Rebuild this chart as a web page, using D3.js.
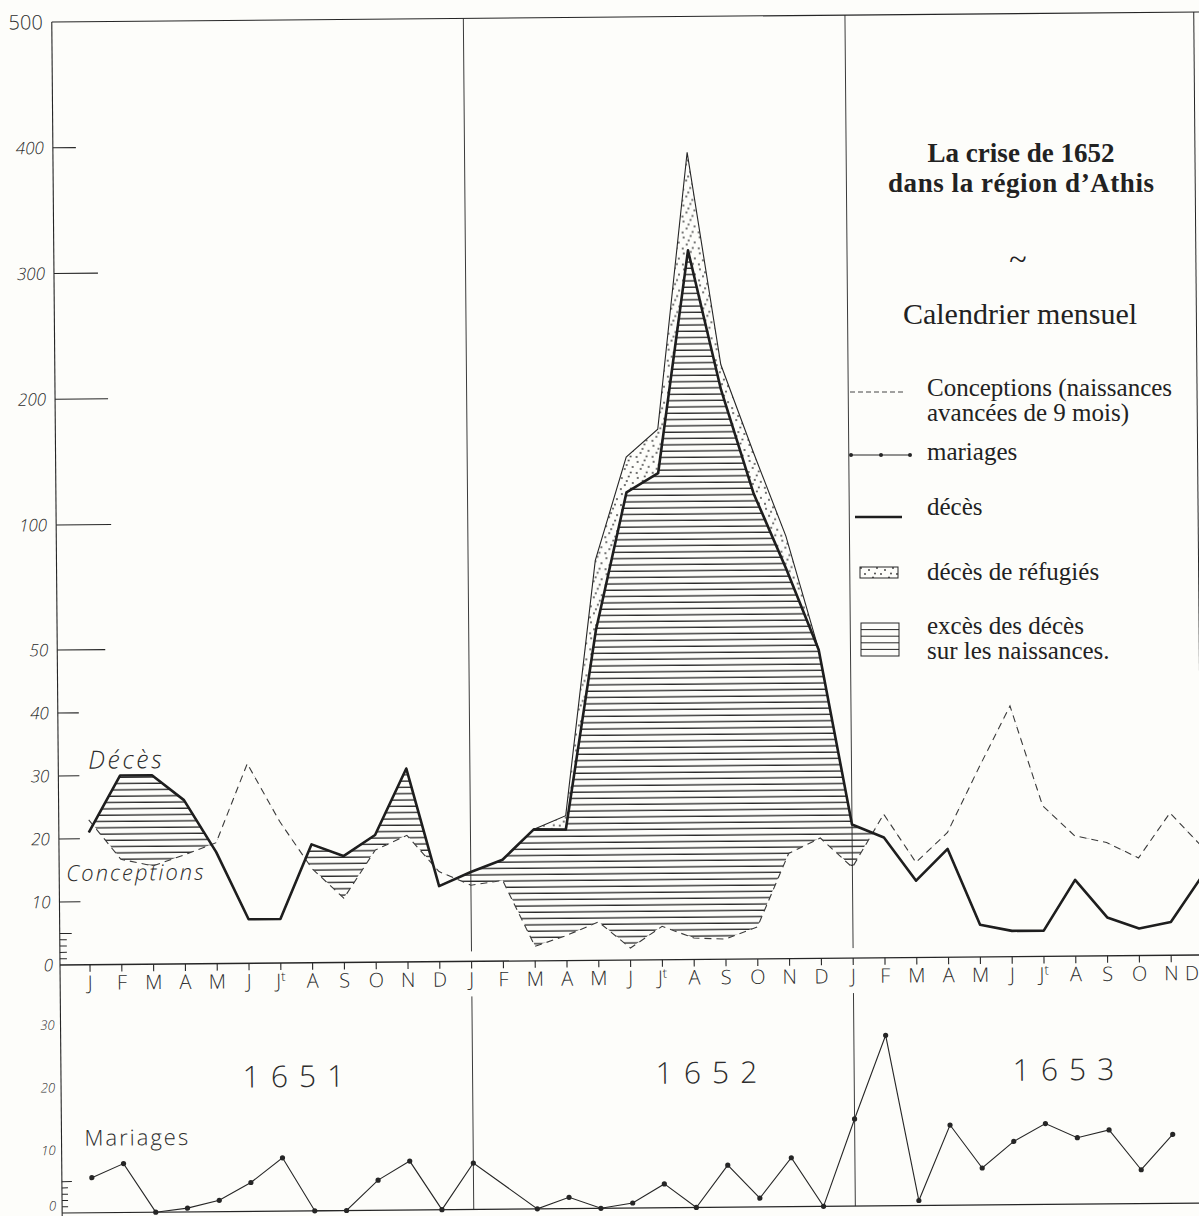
<!DOCTYPE html>
<html>
<head>
<meta charset="utf-8">
<script src="https://cdn.jsdelivr.net/npm/d3@7/dist/d3.min.js"></script>
<style>
  body { margin: 0; background: #fdfdfa; }
  svg { display: block; }
  .hand { font-family: "Open Sans", "DejaVu Sans", sans-serif; font-weight: 300; fill: #2c2c2c; }
  .print { font-family: "Liberation Serif", "Times New Roman", serif; fill: #222; }
</style>
</head>
<body>
<div class="canvas"></div>
<script>
const years = ['1651', '1652', '1653'];
const monthLabels = ['J', 'F', 'M', 'A', 'M', 'J', 'Jt', 'A', 'S', 'O', 'N', 'D'];

// burials of the parishioners
const deces = [
    21, 30, 30, 26, 17.7, 7, 7, 18.8, 16.9, 20.2, 30.7, 12,
    14.2, 16.1, 20.9, 20.8, 56, 122, 137, 314, 203, 120, 80, 49,
    21.2, 19.1, 12.2, 17.2, 5.1, 4.1, 4.1, 12.1, 6.1, 4.3, 5.3, 12.6
];
// extra burials of refugees (stacked on top of deces)
const refugies = [
    0, 0, 0, 0, 0, 0, 0, 0, 0, 0, 0, 0,
    0, 0, 0, 2.2, 28, 28, 35, 78, 20, 33, 13, 0,
    0, 0, 0, 0, 0, 0, 0, 0, 0, 0, 0, 0
];
// births moved back 9 months
const conceptions = [
    23, 16.7, 15.6, 17.3, 19.2, 31.7, 22.5, 15, 10.2, 17.8, 20.1, 14.3,
    12.1, 12.8, 2.3, 4, 6.1, 1.9, 5.3, 3.4, 3.2, 5.1, 16.7, 19.1,
    14.4, 22.8, 15.1, 19.8, 30, 39.8, 23.9, 19.1, 18, 15.5, 22.6, 17.2
];
const mariages = [
    5.6, 7.8, 0, 0.6, 1.8, 4.6, 8.5, 0, 0, 4.8, 7.8, 0,
    7.4, null, 0, 1.8, 0, 0.8, 3.8, 0, 6.7, 1.4, 7.8, 0,
    13.9, 27.2, 0.8, 12.8, 5.9, 10.1, 12.9, 10.6, 11.8, 5.4, 11, null
];

const yTicks = [0, 10, 20, 30, 40, 50, 100, 200, 300, 400, 500];
const yMinor = [1, 2, 3, 4, 5];
const yTicksMar = [0, 10, 20, 30];

const dims = { width: 1199, height: 1216 };
const ink = '#262626';

const svg = d3.select('.canvas')
    .append('svg')
    .attr('width', dims.width)
    .attr('height', dims.height);

svg.append('rect')
    .attr('width', dims.width)
    .attr('height', dims.height)
    .attr('fill', '#fdfdfa');

// patterns: horizontal hatching and stipple
const defs = svg.append('defs');
const hatch = defs.append('pattern')
    .attr('id', 'hatch')
    .attr('patternUnits', 'userSpaceOnUse')
    .attr('width', 40)
    .attr('height', 6.3);
hatch.append('line')
    .attr('x1', 0).attr('x2', 40)
    .attr('y1', 3).attr('y2', 3)
    .attr('stroke', '#2a2a2a')
    .attr('stroke-width', 1.4);

const dots = defs.append('pattern')
    .attr('id', 'dots')
    .attr('patternUnits', 'userSpaceOnUse')
    .attr('width', 16)
    .attr('height', 16);
dots.append('rect').attr('width', 16).attr('height', 16).attr('fill', '#fdfdfa');
[[2, 3], [9, 1.5], [13, 8], [5, 10], [11, 13.5], [1, 14], [7, 6]].forEach(p => {
    dots.append('circle').attr('cx', p[0]).attr('cy', p[1]).attr('r', 0.9).attr('fill', '#333');
});

// the scanned page is tilted a little, so the chart group is rotated
const graph = svg.append('g')
    .attr('transform', 'rotate(-0.5, 60, 965)');

const months = d3.range(36);
const x = d3.scalePoint().domain(months).range([90, 1203]);
// broken scale: 0-50 wide, 50-100 half, 100-500 quarter
const y = d3.scaleLinear().domain([0, 50, 100, 500]).range([965, 650, 525, 22]);
const yMar = d3.scaleLinear().domain([0, 30]).range([1213, 1025]);

const axisX = 60;
const rightX = x(35) - 1;

// frame and axes
graph.append('line')
    .attr('x1', axisX).attr('x2', axisX)
    .attr('y1', y(500)).attr('y2', dims.height + 10)
    .attr('stroke', ink).attr('stroke-width', 1.1);
graph.append('line')
    .attr('x1', axisX).attr('x2', rightX + 20)
    .attr('y1', y(500)).attr('y2', y(500))
    .attr('stroke', ink).attr('stroke-width', 1.1);
graph.append('line')
    .attr('x1', rightX).attr('x2', rightX)
    .attr('y1', y(500)).attr('y2', yMar(0))
    .attr('stroke', ink).attr('stroke-width', 1);
graph.append('line')
    .attr('x1', axisX).attr('x2', rightX + 20)
    .attr('y1', y(0)).attr('y2', y(0))
    .attr('stroke', ink).attr('stroke-width', 1.4);
graph.append('line')
    .attr('x1', axisX).attr('x2', rightX + 20)
    .attr('y1', yMar(0)).attr('y2', yMar(0))
    .attr('stroke', ink).attr('stroke-width', 1.2);

// year dividers
[12, 24].forEach(i => {
    graph.append('line')
        .attr('x1', x(i)).attr('x2', x(i))
        .attr('y1', y(500)).attr('y2', y(0) - 10)
        .attr('stroke', ink).attr('stroke-width', 0.9);
    graph.append('line')
        .attr('x1', x(i)).attr('x2', x(i))
        .attr('y1', 1000).attr('y2', yMar(0))
        .attr('stroke', ink).attr('stroke-width', 0.9);
});

// left ticks, hand drawn lengths
const tickLen = { 0: 0, 10: 21, 20: 21, 30: 21, 40: 21, 50: 48, 100: 55, 200: 53, 300: 44, 400: 23, 500: 0 };
graph.selectAll('.ytick')
    .data(yTicks)
    .enter()
    .append('line')
    .attr('class', 'ytick')
    .attr('x1', axisX).attr('x2', d => axisX + tickLen[d])
    .attr('y1', d => y(d)).attr('y2', d => y(d))
    .attr('stroke', ink).attr('stroke-width', 1.1);

graph.selectAll('.yminor')
    .data(yMinor)
    .enter()
    .append('line')
    .attr('class', 'yminor')
    .attr('x1', axisX).attr('x2', d => axisX + (d === 5 ? 12 : 7))
    .attr('y1', d => y(d)).attr('y2', d => y(d))
    .attr('stroke', ink).attr('stroke-width', 1);

graph.selectAll('.ylabel')
    .data(yTicks)
    .enter()
    .append('text')
    .attr('class', 'ylabel hand')
    .attr('x', d => d === 0 ? axisX - 7 : axisX - 9)
    .attr('y', d => y(d))
    .attr('dy', '0.36em')
    .attr('text-anchor', 'end')
    .attr('font-size', d => d === 500 ? 20 : 17)
    .attr('font-style', d => d < 500 ? 'italic' : 'normal')
    .text(d => d);

// month ticks and letters
graph.selectAll('.xtick')
    .data(months)
    .enter()
    .append('line')
    .attr('class', 'xtick')
    .attr('x1', d => x(d)).attr('x2', d => x(d))
    .attr('y1', y(0)).attr('y2', y(0) + 7)
    .attr('stroke', ink).attr('stroke-width', 1.1);

const mLab = graph.selectAll('.xlabel')
    .data(months)
    .enter()
    .append('text')
    .attr('class', 'xlabel hand')
    .attr('x', d => x(d) - (d === 35 ? 11 : 0))
    .attr('y', 990)
    .attr('text-anchor', 'middle')
    .attr('font-size', 20);
mLab.append('tspan').text(d => monthLabels[d % 12].charAt(0));
mLab.filter(d => d % 12 === 6)
    .append('tspan')
    .attr('dy', -7)
    .attr('font-size', 13)
    .text('t');

// excess of deaths over conceptions: band clipped to the part above the conceptions line
graph.append('clipPath')
    .attr('id', 'aboveConc')
    .append('path')
    .attr('d', d3.area()
        .x(d => x(d))
        .y0(d => y(conceptions[d]))
        .y1(0)(months));

graph.append('path')
    .attr('d', d3.area()
        .x(d => x(d))
        .y0(d => y(conceptions[d]))
        .y1(d => y(deces[d]))(months))
    .attr('clip-path', 'url(#aboveConc)')
    .attr('fill', 'url(#hatch)');

// refugees band
graph.append('path')
    .attr('d', d3.area()
        .x(d => x(d))
        .y0(d => y(deces[d]))
        .y1(d => y(deces[d] + refugies[d]))(months))
    .attr('fill', 'url(#dots)');

graph.append('path')
    .attr('d', d3.line()
        .x(d => x(d))
        .y(d => y(conceptions[d]))(months))
    .attr('fill', 'none')
    .attr('stroke', '#3a3a3a')
    .attr('stroke-width', 1.1)
    .attr('stroke-dasharray', '7,5');

graph.append('path')
    .attr('d', d3.line()
        .x(d => x(d))
        .y(d => y(deces[d] + refugies[d]))(months))
    .attr('fill', 'none')
    .attr('stroke', ink)
    .attr('stroke-width', 1.1);

graph.append('path')
    .attr('d', d3.line()
        .x(d => x(d))
        .y(d => y(deces[d]))(months))
    .attr('fill', 'none')
    .attr('stroke', '#1e1e1e')
    .attr('stroke-width', 2.6)
    .attr('stroke-linejoin', 'round');

// hand written series names
graph.append('text').attr('class', 'hand')
    .attr('x', 90).attr('y', 769)
    .attr('font-size', 25).attr('letter-spacing', 2.5)
    .attr('font-style', 'italic')
    .text('Décès');
graph.append('text').attr('class', 'hand')
    .attr('x', 67).attr('y', 881)
    .attr('font-size', 22).attr('letter-spacing', 2)
    .attr('font-style', 'italic')
    .text('Conceptions');

// marriages panel
graph.selectAll('.mlabel')
    .data(yTicksMar)
    .enter()
    .append('text')
    .attr('class', 'mlabel hand')
    .attr('x', axisX - 6)
    .attr('y', d => yMar(d))
    .attr('dy', d => d === 0 ? '-0.2em' : '0.36em')
    .attr('text-anchor', 'end')
    .attr('font-size', 13)
    .attr('font-style', 'italic')
    .text(d => d);

graph.selectAll('.mminor')
    .data(yMinor)
    .enter()
    .append('line')
    .attr('class', 'mminor')
    .attr('x1', axisX).attr('x2', d => axisX + (d === 5 ? 10 : 6))
    .attr('y1', d => yMar(d)).attr('y2', d => yMar(d))
    .attr('stroke', ink).attr('stroke-width', 1);

graph.selectAll('.year')
    .data(years)
    .enter()
    .append('text')
    .attr('class', 'year hand')
    .attr('x', (d, i) => [292, 705, 1062][i] + 6)
    .attr('y', 1089)
    .attr('text-anchor', 'middle')
    .attr('font-size', 30)
    .attr('letter-spacing', 11)
    .text(d => d);

graph.append('text').attr('class', 'hand')
    .attr('x', 83).attr('y', 1146)
    .attr('font-size', 22).attr('letter-spacing', 2)
    .text('Mariages');

const marPts = months.filter(d => mariages[d] !== null);
graph.append('path')
    .attr('d', d3.line()
        .x(d => x(d))
        .y(d => yMar(mariages[d]))(marPts))
    .attr('fill', 'none')
    .attr('stroke', ink)
    .attr('stroke-width', 1.1);
graph.selectAll('.mdot')
    .data(marPts)
    .enter()
    .append('circle')
    .attr('class', 'mdot')
    .attr('cx', d => x(d))
    .attr('cy', d => yMar(mariages[d]))
    .attr('r', 2.6)
    .attr('fill', ink);

// printed title and legend
const legend = svg.append('g').attr('class', 'print');
legend.append('text')
    .attr('x', 1021).attr('y', 162)
    .attr('text-anchor', 'middle')
    .attr('font-size', 27).attr('font-weight', 'bold')
    .attr('textLength', 187)
    .text('La crise de 1652');
legend.append('text')
    .attr('x', 1021).attr('y', 192)
    .attr('text-anchor', 'middle')
    .attr('font-size', 27).attr('font-weight', 'bold')
    .attr('textLength', 266)
    .text('dans la région d’Athis');
legend.append('text')
    .attr('x', 1018).attr('y', 270)
    .attr('text-anchor', 'middle')
    .attr('font-size', 32)
    .text('~');
legend.append('text')
    .attr('x', 1020).attr('y', 324)
    .attr('text-anchor', 'middle')
    .attr('font-size', 30)
    .text('Calendrier mensuel');

const legItems = [
    { lines: ['Conceptions (naissances', 'avancées de 9 mois)'], y: 396 },
    { lines: ['mariages'], y: 460 },
    { lines: ['décès'], y: 515 },
    { lines: ['décès de réfugiés'], y: 580 },
    { lines: ['excès des décès', 'sur les naissances.'], y: 634 }
];
legItems.forEach(item => {
    const t = legend.append('text')
        .attr('x', 927).attr('y', item.y)
        .attr('font-size', 25);
    item.lines.forEach((l, i) => {
        t.append('tspan').attr('x', 927).attr('dy', i ? 25 : 0).text(l);
    });
});

legend.append('line')
    .attr('x1', 850).attr('x2', 905).attr('y1', 392).attr('y2', 392)
    .attr('stroke', '#444').attr('stroke-width', 1).attr('stroke-dasharray', '5,3');
legend.append('line')
    .attr('x1', 850).attr('x2', 911).attr('y1', 455).attr('y2', 455)
    .attr('stroke', ink).attr('stroke-width', 1);
legend.selectAll('.legdot')
    .data([851, 881, 910])
    .enter()
    .append('circle')
    .attr('cx', d => d).attr('cy', 455).attr('r', 2)
    .attr('fill', ink);
legend.append('line')
    .attr('x1', 855).attr('x2', 902).attr('y1', 517).attr('y2', 517)
    .attr('stroke', '#1e1e1e').attr('stroke-width', 2.4);
legend.append('rect')
    .attr('x', 860).attr('y', 567).attr('width', 38).attr('height', 11)
    .attr('fill', 'url(#dots)').attr('stroke', ink).attr('stroke-width', 1);
legend.append('rect')
    .attr('x', 861).attr('y', 623).attr('width', 38).attr('height', 33)
    .attr('fill', 'none').attr('stroke', ink).attr('stroke-width', 1);
legend.selectAll('.leghatch')
    .data(d3.range(1, 5))
    .enter()
    .append('line')
    .attr('x1', 861).attr('x2', 899)
    .attr('y1', d => 623 + d * 6.6).attr('y2', d => 623 + d * 6.6)
    .attr('stroke', ink).attr('stroke-width', 1);
</script>
</body>
</html>
